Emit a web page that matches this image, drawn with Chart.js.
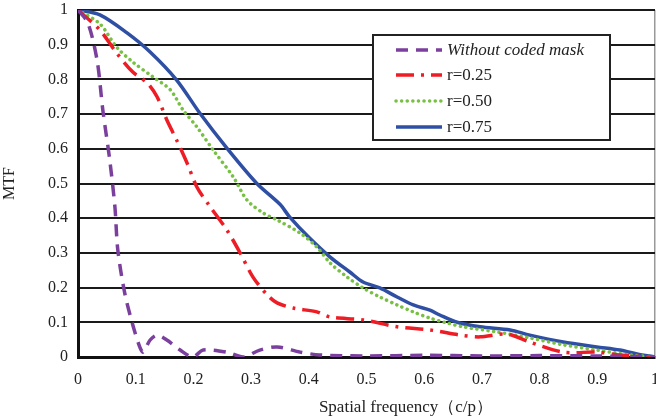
<!DOCTYPE html>
<html>
<head>
<meta charset="utf-8">
<script src="https://cdn.jsdelivr.net/npm/chart.js@4"></script>
<style>
    html, body { margin: 0; padding: 0; background: #fff; }
    #wrap { width: 656px; height: 419px; }
</style>
</head>
<body>
<div id="wrap"><canvas id="mtfChart"></canvas></div>
<script>
const tickValues = [0, 0.1, 0.2, 0.3, 0.4, 0.5, 0.6, 0.7, 0.8, 0.9, 1];
const seriesLabels = ['Without coded mask', 'r=0.25', 'r=0.50', 'r=0.75'];

const noMaskX = [0, 0.017, 0.033, 0.043, 0.055, 0.064, 0.069, 0.081, 0.094, 0.107, 0.113, 0.125, 0.137, 0.154, 0.177, 0.199, 0.217, 0.258, 0.286, 0.315, 0.345, 0.385, 0.419, 0.5, 0.6, 0.7, 0.8, 0.9, 1];
const noMaskY = [1, 0.963, 0.856, 0.712, 0.568, 0.432, 0.308, 0.184, 0.098, 0.029, 0.014, 0.049, 0.063, 0.049, 0.02, 0, 0.02, 0.014, 0, 0.02, 0.029, 0.014, 0.006, 0.003, 0.005, 0.003, 0.004, 0.003, 0];

const r25X = [0, 0.038, 0.067, 0.095, 0.12, 0.137, 0.154, 0.171, 0.189, 0.206, 0.226, 0.258, 0.281, 0.303, 0.328, 0.345, 0.373, 0.414, 0.437, 0.494, 0.553, 0.61, 0.667, 0.697, 0.743, 0.783, 0.841, 0.899, 0.939, 0.986, 1];
const r25Y = [1, 0.942, 0.876, 0.821, 0.79, 0.75, 0.683, 0.625, 0.559, 0.49, 0.44, 0.366, 0.3, 0.231, 0.179, 0.156, 0.141, 0.13, 0.115, 0.107, 0.087, 0.078, 0.062, 0.058, 0.066, 0.043, 0.014, 0.014, 0.006, 0, 0];

const r50X = [0, 0.038, 0.067, 0.095, 0.13, 0.16, 0.182, 0.206, 0.234, 0.269, 0.293, 0.321, 0.345, 0.385, 0.414, 0.437, 0.466, 0.494, 0.523, 0.553, 0.581, 0.61, 0.64, 0.667, 0.726, 0.783, 0.841, 0.899, 0.957, 1];
const r50Y = [1, 0.96, 0.893, 0.85, 0.807, 0.77, 0.712, 0.663, 0.597, 0.519, 0.452, 0.415, 0.395, 0.357, 0.317, 0.271, 0.231, 0.199, 0.173, 0.15, 0.13, 0.112, 0.098, 0.087, 0.072, 0.055, 0.035, 0.02, 0.006, 0];

const r75X = [0, 0.038, 0.085, 0.125, 0.171, 0.211, 0.258, 0.31, 0.35, 0.367, 0.4, 0.437, 0.471, 0.494, 0.523, 0.553, 0.581, 0.61, 0.627, 0.657, 0.697, 0.749, 0.783, 0.841, 0.899, 0.939, 0.969, 1];
const r75Y = [1, 0.986, 0.934, 0.879, 0.798, 0.703, 0.602, 0.5, 0.44, 0.403, 0.345, 0.288, 0.245, 0.216, 0.199, 0.173, 0.15, 0.135, 0.121, 0.1, 0.087, 0.078, 0.063, 0.043, 0.029, 0.02, 0.009, 0];

function toPoints(xs, ys) {
    return xs.map((x, i) => ({ x: x, y: ys[i] }));
}

const serif = '"Liberation Serif", "Times New Roman", serif';

// legend drawn inside the plot, Excel style
const boxLegend = {
    id: 'boxLegend',
    afterDraw(chart) {
        const ctx = chart.ctx;
        const left = 373, top = 35, w = 237, h = 105;
        ctx.save();
        ctx.fillStyle = '#fff';
        ctx.fillRect(left, top, w, h);
        ctx.lineWidth = 2;
        ctx.strokeStyle = '#222';
        ctx.strokeRect(left, top, w, h);
        const rows = [50, 75, 101, 127];
        chart.data.datasets.forEach((ds, i) => {
            const y = rows[i];
            ctx.beginPath();
            ctx.setLineDash(ds.borderDash || []);
            ctx.lineCap = ds.borderCapStyle || 'butt';
            ctx.lineWidth = ds.borderWidth;
            ctx.strokeStyle = ds.borderColor;
            ctx.moveTo(396, y);
            ctx.lineTo(442, y);
            ctx.stroke();
            ctx.setLineDash([]);
            ctx.fillStyle = '#222';
            ctx.textBaseline = 'middle';
            ctx.font = (i === 0 ? 'italic ' : '') + '17px ' + serif;
            ctx.fillText(ds.label, 447, y + 1);
        });
        // x axis title
        ctx.font = '17px ' + serif;
        ctx.textAlign = 'center';
        ctx.fillText('Spatial frequency（c/p）', 406, 408);
        ctx.restore();
    }
};

new Chart(document.getElementById('mtfChart'), {
    type: 'line',
    data: {
        datasets: [{
            label: seriesLabels[0],
            data: toPoints(noMaskX, noMaskY),
            borderColor: '#7b3f9e',
            borderWidth: 3.5,
            borderDash: [12, 8],
            pointRadius: 0,
            tension: 0.3
        }, {
            label: seriesLabels[1],
            data: toPoints(r25X, r25Y),
            borderColor: '#ee1c25',
            borderWidth: 3.5,
            borderDash: [18, 7, 3, 7],
            pointRadius: 0,
            tension: 0.3
        }, {
            label: seriesLabels[2],
            data: toPoints(r50X, r50Y),
            borderColor: '#77c043',
            borderWidth: 3.5,
            borderDash: [0.1, 5.5],
            borderCapStyle: 'round',
            pointRadius: 0,
            tension: 0.3
        }, {
            label: seriesLabels[3],
            data: toPoints(r75X, r75Y),
            borderColor: '#2e4fa3',
            borderWidth: 3.5,
            pointRadius: 0,
            tension: 0.3
        }]
    },
    options: {
        responsive: true,
        maintainAspectRatio: false,
        animation: false,
        layout: { padding: { top: 10, right: 1, left: 0, bottom: 0 } },
        plugins: {
            legend: { display: false },
            tooltip: { enabled: false }
        },
        scales: {
            x: {
                type: 'linear',
                min: 0,
                max: 1,
                afterFit: (scale) => {
                    scale.height = 62;
                    scale.paddingLeft = 0;
                    scale.paddingRight = 0;
                },
                afterBuildTicks: (scale) => { scale.ticks = tickValues.map(v => ({ value: v })); },
                grid: {
                    drawTicks: false,
                    lineWidth: 1.5,
                    color: (c) => c.tick && c.tick.value === 1 ? '#999' : 'rgba(0,0,0,0)'
                },
                border: { color: '#111', width: 3 },
                ticks: {
                    padding: 13,
                    color: '#222',
                    font: { family: serif, size: 16 },
                    maxRotation: 0,
                    callback: (v) => String(v)
                }
            },
            y: {
                min: 0,
                max: 1,
                afterFit: (scale) => {
                    scale.width = 78;
                    scale.paddingTop = 0;
                    scale.paddingBottom = 0;
                },
                afterBuildTicks: (scale) => { scale.ticks = tickValues.map(v => ({ value: v })); },
                grid: {
                    drawTicks: false,
                    lineWidth: 2,
                    color: '#1a1a1a'
                },
                border: { color: '#111', width: 3 },
                ticks: {
                    padding: 10,
                    color: '#222',
                    font: { family: serif, size: 16 },
                    callback: (v) => String(v)
                },
                title: {
                    display: true,
                    text: 'MTF',
                    color: '#222',
                    font: { family: serif, size: 16 },
                    padding: { top: 0, bottom: 0 }
                }
            }
        }
    },
    plugins: [boxLegend]
});
</script>
</body>
</html>
